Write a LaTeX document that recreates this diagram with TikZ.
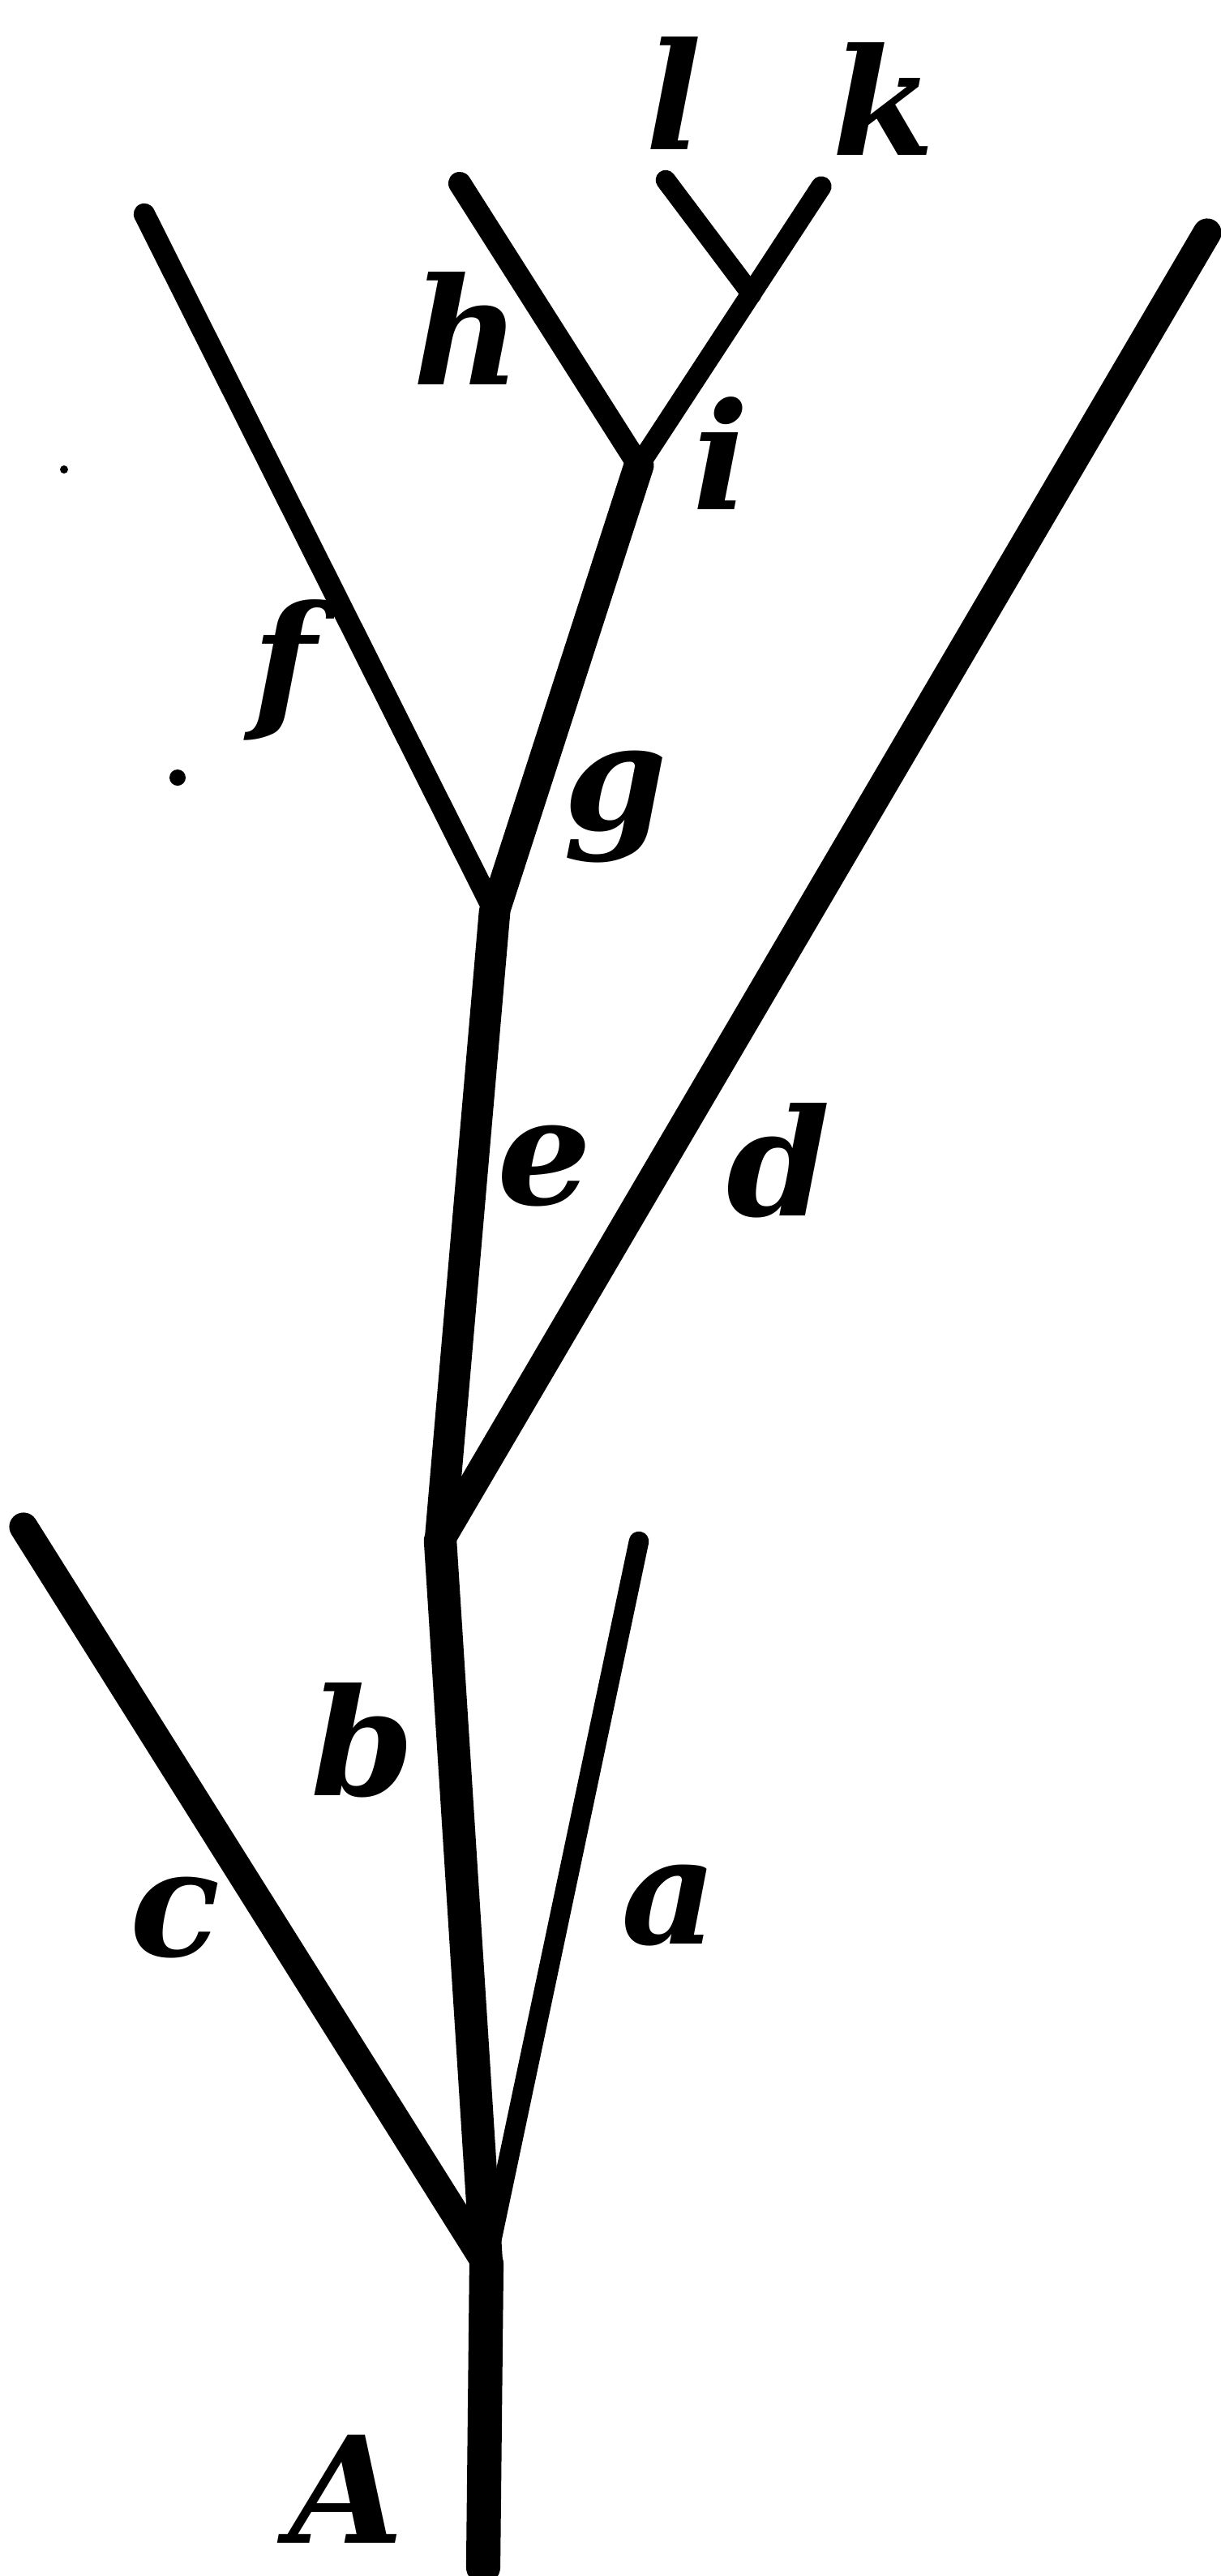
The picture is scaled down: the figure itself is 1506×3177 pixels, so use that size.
\documentclass[tikz,border=0pt]{standalone}
\usepackage{fontspec}
\setmainfont{DejaVu Serif}

\begin{document}
\begin{tikzpicture}[x=0.01cm,y=-0.01cm,
  twig/.style={line cap=round,line join=round},
  lbl/.style={inner sep=0pt,font=\fontsize{52}{52}\selectfont\bfseries\itshape}]
\useasboundingbox (0,0) rectangle (1506,3177);
% points of the stem
\coordinate (base) at (596,3166);
\coordinate (forkc) at (600,2792);
\coordinate (forkd) at (543,1900);
\coordinate (forkf) at (610,1125);
\coordinate (forkh) at (788,574);
\coordinate (forkl) at (927,363);
% free ends
\coordinate (tipa) at (788,1901);
\coordinate (tipc) at (29,1883);
\coordinate (tipd) at (1489,287);
\coordinate (tipf) at (178,264);
\coordinate (tiph) at (567,226);
\coordinate (tipk) at (1013,230);
\coordinate (tipl) at (821,222);
\draw[twig,line width=12pt] (base) -- (forkc);
\draw[twig,line width=11.5pt] (forkc) -- (forkd);
\draw[twig,line width=10pt] (forkc) -- (tipc);
\draw[twig,line width=7pt] (forkc) -- (tipa);
\draw[twig,line width=11pt] (forkd) -- (forkf);
\draw[twig,line width=10pt] (forkd) -- (tipd);
\draw[twig,line width=7.5pt] (forkf) -- (tipf);
\draw[twig,line width=10.5pt] (forkf) -- (forkh);
\draw[twig,line width=8pt] (forkh) -- (tiph);
\draw[twig,line width=7.2pt] (forkh) -- (tipk);
\draw[twig,line width=7pt] (forkl) -- (tipl);
% specks
\fill (79,579) circle (5);
\fill (219,959) circle (10);
% letters
\node[lbl] (l) at (831,115) {l};
\node[lbl] (k) at (1090,122) {k};
\node[lbl] (h) at (576,405) {h};
\node[lbl] (i) at (889,559) {i};
\node[lbl] (f) at (351,826) {f};
\node[lbl] (g) at (759,995) {g};
\node[lbl] (e) at (672,1438) {e};
\node[lbl] (d) at (960,1431) {d};
\node[lbl] (b) at (447,2146) {b};
\node[lbl] (c) at (216,2365) {c};
\node[lbl] (a) at (826,2350) {a};
\node[lbl] (A) at (427,3070) {A};
\end{tikzpicture}
\end{document}
